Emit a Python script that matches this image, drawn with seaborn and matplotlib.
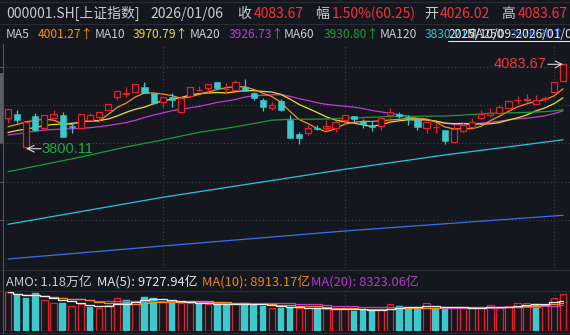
import numpy as np
import pandas as pd
import matplotlib
matplotlib.use("Agg")
import matplotlib.pyplot as plt
from matplotlib.lines import Line2D
from matplotlib.patches import Rectangle
import seaborn as sns

# ---------------- data ----------------
opens = [3902.23, 3916.68, 3804.79, 3909.96, 3868.63, 3902.23, 3913.32, 3876.36, 3869.64, 3896.52,
         3904.92, 3930.12, 3972.79, 3985.56, 3991.61, 4008.41, 3986.23, 3955.32, 3974.81, 3924.41,
         3977.16, 3996.31, 4003.03, 4023.19, 4001.35, 3997.32, 4006.39, 3986.23, 3963.72, 3937.85,
         3960.36, 3896.52, 3849.48, 3851.83, 3868.63, 3868.63, 3870.65, 3896.52, 3909.96, 3893.16,
         3878.71, 3876.36, 3913.32, 3915.67, 3906.60, 3899.88, 3870.65, 3873.00, 3862.92, 3823.61,
         3859.56, 3874.68, 3902.23, 3915.00, 3921.72, 3937.85, 3962.71, 3963.72, 3949.27, 3965.40,
         3989.59, 4026.02]
closes = [3932.47, 3896.52, 3890.81, 3864.60, 3912.31, 3915.67, 3840.41, 3873.00, 3915.67, 3913.32,
          3922.39, 3949.27, 3994.97, 3987.24, 4016.47, 3986.23, 3952.63, 3974.81, 3963.72, 3971.45,
          4006.39, 3997.32, 4016.47, 4003.03, 4002.36, 4025.21, 3993.96, 3971.45, 3939.19, 3946.92,
          3930.12, 3837.05, 3837.05, 3868.63, 3865.27, 3877.37, 3888.79, 3913.32, 3898.87, 3883.08,
          3874.01, 3902.23, 3924.41, 3909.96, 3899.88, 3874.01, 3890.81, 3874.68, 3826.97, 3866.28,
          3879.72, 3888.79, 3916.68, 3920.04, 3941.21, 3960.36, 3964.73, 3967.50, 3962.50, 3969.20,
          4023.42, 4083.67]
highs = [3933.48, 3930.12, 3890.81, 3920.04, 3913.32, 3930.12, 3923.40, 3885.43, 3916.68, 3921.05,
         3923.40, 3950.28, 3995.64, 4009.08, 4017.48, 4024.20, 3987.24, 3975.48, 3986.23, 3977.16,
         4007.40, 4011.77, 4017.48, 4024.20, 4019.83, 4031.93, 4034.28, 3991.61, 3969.43, 3955.99,
         3967.08, 3913.32, 3855.19, 3879.72, 3879.72, 3896.52, 3896.52, 3913.32, 3911.64, 3899.88,
         3893.16, 3903.24, 3937.85, 3924.41, 3913.32, 3904.25, 3891.48, 3888.12, 3864.60, 3879.72,
         3888.79, 3902.23, 3930.12, 3936.84, 3946.92, 3963.72, 3977.16, 3982.87, 3980.52, 3977.16,
         4024.20, 4083.67]
lows = [3887.45, 3887.45, 3800.11, 3859.56, 3862.92, 3902.23, 3839.40, 3851.83, 3869.64, 3896.52,
        3890.81, 3930.12, 3963.72, 3974.81, 3991.61, 3986.23, 3951.96, 3940.20, 3941.21, 3924.41,
        3977.16, 3994.97, 3991.61, 4002.36, 3982.87, 3997.32, 3993.96, 3963.72, 3927.77, 3930.12,
        3926.76, 3836.04, 3815.88, 3846.12, 3864.60, 3859.56, 3856.20, 3890.81, 3890.81, 3870.65,
        3859.56, 3862.92, 3902.23, 3904.25, 3879.72, 3862.92, 3851.83, 3852.84, 3815.88, 3823.61,
        3857.21, 3869.64, 3902.23, 3908.28, 3921.72, 3936.84, 3949.27, 3957.00, 3949.27, 3958.01,
        3989.59, 4026.02]
# turnover (亿元)
amount = [12345, 11484, 10431, 12026, 9889, 8836, 9028, 7975, 8613, 7752,
          7241, 8294, 10431, 9889, 9666, 10942, 10431, 9347, 8836, 8836,
          8836, 8836, 8613, 8613, 8613, 8613, 8836, 8517, 8071, 7241,
          7433, 7752, 7241, 7241, 7241, 6922, 7018, 7241, 6476, 6699,
          6699, 7018, 8613, 7975, 7241, 7560, 9028, 7480, 7400, 7350,
          7300, 7380, 7800, 8150, 7800, 7850, 8890, 9050, 8720, 8420,
          10650, 11800]

# moving-average values before a full window is visible
ma5_head = [3874.01, 3881.40, 3890.81, 3894.84]
ma10_head = [3854.52, 3861.24, 3866.28, 3871.32, 3878.04, 3881.40, 3883.08, 3885.43, 3888.12]
ma20_head = [3846.12, 3849.48, 3855.19, 3858.55, 3862.92, 3864.60, 3866.28, 3867.29, 3868.63, 3870.65,
             3874.01, 3878.04, 3883.08, 3888.12, 3895.51, 3904.92, 3913.32, 3920.04, 3927.43]
# long moving averages read at sample candles
ma60_idx = [0, 8, 13, 17, 21, 24, 27, 29, 31, 35, 42, 48, 50, 53, 56, 59, 61]
ma60_val = [3722.8, 3772.0, 3806.0, 3829.5, 3855.2, 3868.6, 3884.5, 3896.0, 3898.9, 3899.9,
            3908.3, 3910.0, 3913.0, 3919.0, 3921.0, 3924.4, 3930.80]
ma120_idx = [0, 17, 37, 48, 60, 61]
ma120_val = [3546.1, 3636.8, 3730.9, 3779.0, 3826.0, 3830.2]
ma250_idx = [0, 17, 37, 61]
ma250_val = [3429.5, 3473.2, 3523.6, 3576.3]

month_start_idx = [17, 37, 60]   # 2025-11-03, 2025-12-01, 2026-01-05
price_grid = [4075.6, 3946.8, 3818.0, 3689.2, 3560.4]

# ---------------- styling ----------------
BG = '#14171e'
RED = '#e8202a'
RED_TXT = '#f0343a'
CYAN = '#3cc8cc'
GRID = '#3a3e47'
TXT = '#c8cbd0'
C_MA5, C_MA10, C_MA20 = '#f7901e', '#ecdc3a', '#c23ad0'
C_MA60, C_MA120, C_MA250 = '#1c9a3a', '#2ec3d8', '#3c6fe6'

sns.set_theme(style='dark', rc={'axes.facecolor': BG, 'figure.facecolor': BG,
                                'savefig.facecolor': BG})
plt.rcParams['font.family'] = ['Noto Sans CJK SC', 'DejaVu Sans']
CJK = ['Noto Sans CJK SC', 'DejaVu Sans']
NARROW = ['Liberation Sans Narrow', 'Liberation Sans', 'DejaVu Sans']

W, H = 570, 335
fig = plt.figure(figsize=(W / 100, H / 100), dpi=100)


def pax(x0, y0, x1, y1):
    a = fig.add_axes([x0 / W, 1 - y1 / H, (x1 - x0) / W, (y1 - y0) / H])
    a.set_axis_off()
    return a


def hline(y, x0=0, x1=W, color='#2a2d34', lw=0.8):
    fig.add_artist(Line2D([x0 / W, x1 / W], [1 - y / H, 1 - y / H],
                          transform=fig.transFigure, color=color, lw=lw))


def ftext(x, y, s, color=TXT, size=9.5, family=CJK, **kw):
    fig.text(x / W, 1 - y / H, s, color=color, fontsize=size, family=family,
             va='baseline', ha='left', **kw)


df = pd.DataFrame({'i': np.arange(len(closes)), 'open': opens, 'close': closes,
                   'high': highs, 'low': lows, 'amount': amount})
n = len(df)
XL = (-0.55, n - 0.24)

# ---------------- price panel ----------------
ax = pax(3, 44, 570, 268)
ax.set_xlim(*XL)
ax.set_ylim(3399.24, 4151.88)
for g in price_grid:
    ax.axhline(g, color=GRID, lw=0.8, ls=(0, (1, 2.2)), zorder=0)
for m in month_start_idx:
    ax.axvline(m, color=GRID, lw=0.8, ls=(0, (1, 2.2)), zorder=0)

# moving averages
cs = df['close']
def ma(win, head):
    s = cs.rolling(win).mean()
    s.iloc[:win - 1] = head
    return s

for vals, col in [(ma(20, ma20_head), C_MA20), (ma(10, ma10_head), C_MA10), (ma(5, ma5_head), C_MA5)]:
    sns.lineplot(x=df['i'], y=vals, ax=ax, color=col, lw=0.9, legend=False, zorder=1)
for idx, vals, col in [(ma60_idx, ma60_val, C_MA60), (ma120_idx, ma120_val, C_MA120),
                       (ma250_idx, ma250_val, C_MA250)]:
    sns.lineplot(x=idx, y=vals, ax=ax, color=col, lw=0.9, legend=False, zorder=1)

# candles
o = df['open'].values; c = df['close'].values
up = c >= o
cols = np.where(up, RED, CYAN)
ax.vlines(df['i'], df['low'], df['high'], colors=cols, lw=0.9, zorder=2)
bot = np.minimum(o, c)
hgt = np.maximum(np.abs(c - o), 0.6)
ax.bar(df['i'][up], hgt[up], bottom=bot[up], width=0.68, facecolor=BG,
       edgecolor=RED, lw=0.9, zorder=3)
ax.bar(df['i'][~up], hgt[~up], bottom=bot[~up], width=0.68, facecolor=CYAN,
       edgecolor=CYAN, lw=0.4, zorder=3)

# high / low markers
hi_i = int(df['high'].idxmax()); lo_i = int(df['low'].idxmin())
ax.annotate('', xy=(hi_i, df['high'][hi_i]), xytext=(hi_i - 1.68, df['high'][hi_i]),
            arrowprops=dict(arrowstyle='->', color='#d8d8d8', lw=0.8, shrinkA=0, shrinkB=0))
ax.text(hi_i - 1.78, df['high'][hi_i], f"{df['high'][hi_i]:.2f}", color=RED_TXT,
        fontsize=10.5, family=NARROW, ha='right', va='center')
ax.annotate('', xy=(lo_i, df['low'][lo_i]), xytext=(lo_i + 1.63, df['low'][lo_i]),
            arrowprops=dict(arrowstyle='->', color='#d8d8d8', lw=0.8, shrinkA=0, shrinkB=0))
ax.text(lo_i + 1.73, df['low'][lo_i], f"{df['low'][lo_i]:.2f}", color='#1fa848',
        fontsize=10.5, family=NARROW, ha='left', va='center')

# ---------------- volume panel ----------------
axv = pax(3, 291, 570, 331)
axv.set_xlim(*XL)
axv.set_ylim(0, 12760)
for m in month_start_idx:
    axv.axvline(m, color=GRID, lw=0.8, ls=(0, (1, 2.2)), zorder=0)
vup = np.r_[True, c[1:] >= c[:-1]]
axv.bar(df['i'][vup], df['amount'][vup], width=0.72, facecolor=BG, edgecolor=RED, lw=0.9, zorder=2)
axv.bar(df['i'][~vup], df['amount'][~vup], width=0.72, facecolor=CYAN, edgecolor=CYAN, lw=0.3, zorder=2)
va = df['amount']
for win, col in [(20, '#c23ad0'), (10, '#f08c1e'), (5, '#eeeeee')]:
    sns.lineplot(x=df['i'], y=va.rolling(win, min_periods=1).mean(), ax=axv, color=col,
                 lw=0.9, legend=False, zorder=3, drawstyle='steps-mid')

# ---------------- frame lines ----------------
hline(1.5); hline(23.5); hline(270); hline(291); hline(333)
fig.add_artist(Line2D([3 / W, 3 / W], [1 - 44 / H, 1 - 333 / H], transform=fig.transFigure,
                      color='#50535a', lw=0.8))
fig.add_artist(Rectangle((0, 1 - 143 / H), 3 / W, 70 / H, transform=fig.transFigure,
                         color='#5c5f66', lw=0))
for gy in [66.7, 104.3, 143.3, 181.7, 220]:
    hline(gy, 0, 3, color='#50535a')

# ---------------- header texts ----------------
ftext(6, 18.3, '000001.SH[上证指数]', size=10)
ftext(150, 18.3, '2026/01/06', size=10)
ftext(237, 18.3, '收', size=10)
ftext(254, 18.3, '4083.67', color=RED_TXT, size=10)
ftext(315.5, 18.3, '幅', size=10)
ftext(331.5, 18.3, '1.50%(60.25)', color=RED_TXT, size=10)
ftext(424, 18.3, '开', size=10)
ftext(440, 18.3, '4026.02', color=RED_TXT, size=10)
ftext(501.5, 18.3, '高', size=10)
ftext(517.5, 18.3, '4083.67', color=RED_TXT, size=10)

r2 = 37.7
ftext(6, r2, 'MA5', size=8.7)
ftext(37.3, r2, '4001.27↑', color=C_MA5, size=8.7)
ftext(94.3, r2, 'MA10', size=8.7)
ftext(132.7, r2, '3970.79↑', color=C_MA10, size=8.7)
ftext(190, r2, 'MA20', size=8.7)
ftext(228.3, r2, '3926.73↑', color=C_MA20, size=8.7)
ftext(283.3, r2, 'MA60', size=8.7)
ftext(323.3, r2, '3930.80↑', color=C_MA60, size=8.7)
ftext(379.3, r2, 'MA120', size=8.7)
ftext(424.3, r2, '3830.21↑', color=C_MA120, size=8.7)
ftext(467, r2, 'MA250', size=8.7)
ftext(510, r2, '3576.30↑', color=C_MA250, size=8.7)
ftext(448, r2, '2025/10/09-2026/01/06', color='#e4e4e4', size=8.7)
hline(40.7, 448, 570, color='#e4e4e4', lw=0.8)

r3 = 286
ftext(6, r3, 'AMO: 1.18万亿', size=9.3)
ftext(96.7, r3, 'MA(5): 9727.94亿', color='#e6e6e6', size=9.3)
ftext(201.7, r3, 'MA(10): 8913.17亿', color='#e8861e', size=9.3)
ftext(310.7, r3, 'MA(20): 8323.06亿', color='#b03cc8', size=9.3)

fig.savefig('out.png', dpi=100, facecolor=BG)
